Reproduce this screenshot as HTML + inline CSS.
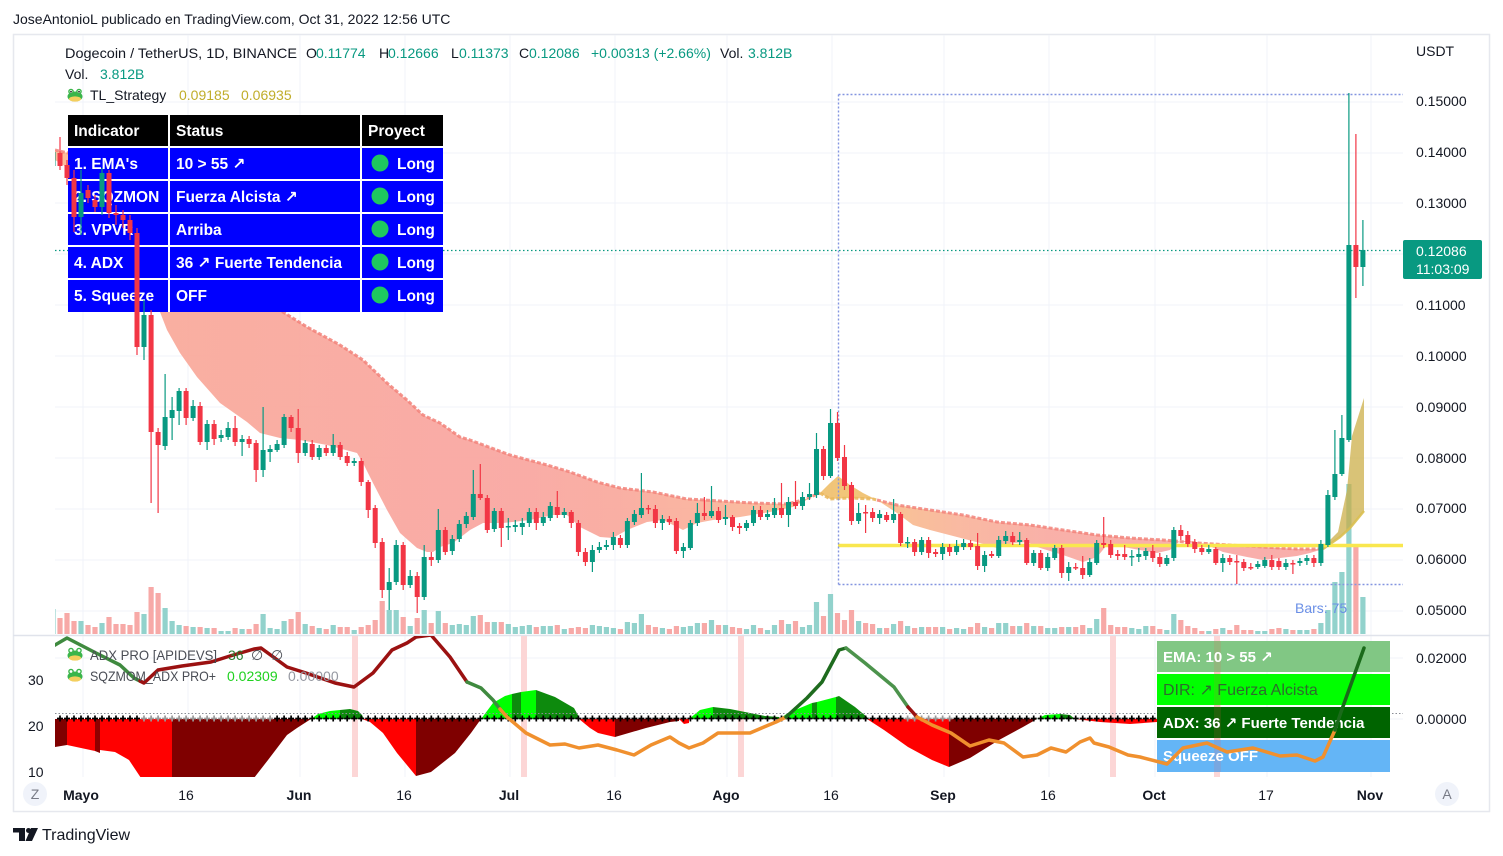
<!DOCTYPE html>
<html><head><meta charset="utf-8">
<style>
html,body{margin:0;padding:0;background:#fff;}
svg{display:block;font-family:"Liberation Sans","DejaVu Sans",sans-serif;}
</style></head>
<body>
<svg id="s" width="1503" height="856" viewBox="0 0 1503 856" xmlns="http://www.w3.org/2000/svg">
<defs>
<clipPath id="cm"><rect x="55" y="35" width="1348" height="599"/></clipPath>
<clipPath id="cl"><rect x="55" y="636" width="1348" height="141"/></clipPath>
<linearGradient id="gf" gradientUnits="userSpaceOnUse" x1="55" y1="0" x2="1403" y2="0">
<stop offset="0" stop-color="#fcb996"/>
<stop offset="0.078" stop-color="#f9ab9c"/>
<stop offset="0.33" stop-color="#f9a7a2"/>
<stop offset="0.419" stop-color="#f9ab9f"/>
<stop offset="0.523" stop-color="#fab89a"/>
<stop offset="0.567" stop-color="#f6c27c"/>
<stop offset="0.612" stop-color="#f8c08e"/>
<stop offset="0.671" stop-color="#f9b69d"/>
<stop offset="0.738" stop-color="#f9aca4"/>
<stop offset="1" stop-color="#f8a8a8"/>
</linearGradient>
</defs>
<rect width="1503" height="856" fill="#fff"/>
<text x="13" y="24" font-size="14" fill="#131722">JoseAntonioL publicado en TradingView.com, Oct 31, 2022 12:56 UTC</text>
<rect x="13.5" y="34.5" width="1476" height="777" fill="none" stroke="#e6e8ee" stroke-width="1.5"/>

<!-- grid -->
<g stroke="#f0f3fa" stroke-width="1">
<path d="M83,35V777 M188,35V777 M300,35V777 M405,35V777 M510,35V777 M615,35V777 M727,35V777 M832,35V777 M944,35V777 M1049,35V777 M1155,35V777 M1267,35V777 M1371,35V777"/>
<path d="M55,102H1403 M55,153H1403 M55,203H1403 M55,254H1403 M55,305H1403 M55,356H1403 M55,407H1403 M55,458H1403 M55,509H1403 M55,560H1403 M55,611H1403 M55,658H1403 M55,719H1403"/>
</g>
<line x1="13" y1="635.5" x2="1490" y2="635.5" stroke="#e0e3eb" stroke-width="1.5"/>

<g clip-path="url(#cm)">
<g id="vol"></g>
<!-- EMA ribbon -->
<polygon fill="url(#gf)" opacity="0.95" points="55,150 68,153 100,165 150,195 200,240 250,285 283,312 307,327 340,345 363,360 387,383 407,400 423,415 440,423 460,437 470,440 510,455 547,465 570,472 597,482 620,488 653,492 687,499 720,501 753,503 787,504 803,500 820,493 810,498 793,507 770,512 740,517 713,520 697,523 683,530 663,520 647,522 627,530 613,538 600,537 580,527 567,515 553,515 530,520 503,523 483,523 470,530 453,543 440,547 433,552 427,552 417,548 400,533 387,510 373,483 363,463 357,453 327,445 300,440 280,438 260,433 247,422 220,403 197,377 180,353 167,330 160,312 150,285 130,245 100,200 68,168 55,160"/>
<polygon fill="#efbf6a" opacity="0.9" points="820,493 830,483 838,476 850,485 863,493 877,500 873,499 850,498 830,499"/>
<polygon fill="url(#gf)" opacity="0.95" points="877,500 897,505 930,510 963,515 997,522 1030,525 1063,530 1097,535 1130,538 1163,540 1197,543 1230,545 1263,547 1297,549 1323,549 1310,553 1297,556 1280,558 1263,560 1247,557 1223,552 1207,545 1190,541 1180,541 1170,550 1157,553 1140,550 1123,547 1107,545 1097,557 1083,562 1063,555 1037,547 1027,542 1013,543 997,548 980,543 957,537 930,530 913,525 897,513"/>
<polygon fill="#cbac43" opacity="0.72" points="1323,549 1330,540 1338,532 1347,490 1352,436 1364,398 1364,511 1350,528 1340,537"/>
<polyline fill="none" stroke="#f2837a" stroke-width="3" stroke-dasharray="4 2" opacity="0.85" points="55,150 68,153 100,165 150,195 200,240 250,285 283,312 307,327 340,345 363,360 387,383 407,400 423,415 440,423 460,437 470,440 510,455 547,465 570,472 597,482 620,488 653,492 687,499 720,501 753,503 787,504 803,500 820,493"/>
<polyline fill="none" stroke="#e9b65a" stroke-width="3" stroke-dasharray="4 2" opacity="0.85" points="820,493 830,499 850,498 873,499 877,500"/>
<polyline fill="none" stroke="#f2837a" stroke-width="3" stroke-dasharray="4 2" opacity="0.85" points="877,500 897,505 930,510 963,515 997,522 1030,525 1063,530 1097,535 1130,538 1163,540 1197,543 1230,545 1263,547 1297,549 1323,549"/>
<polyline fill="none" stroke="#d9bf50" stroke-width="2.5" opacity="0.9" points="1323,549 1340,537 1350,528 1364,511"/>
<line x1="838" y1="545.5" x2="1403" y2="545.5" stroke="#f9e74e" stroke-width="3.5"/>
<path d="M838.5,94.5H1403 M838.5,94.5V584.5 M838.5,584.5H1403" fill="none" stroke="#8395e0" stroke-width="1.4" stroke-dasharray="2 2"/>
<line x1="55" y1="250.5" x2="1403" y2="250.5" stroke="#089981" stroke-width="1.3" stroke-dasharray="1.5 2.5"/>
<text x="1295" y="613" font-size="14" fill="#6a8fe6">Bars: 75</text>

<!-- table -->
<rect x="68" y="115" width="375" height="197" fill="#ffffff"/>
<rect x="68" y="115" width="100" height="31" fill="#000"/>
<rect x="170" y="115" width="190" height="31" fill="#000"/>
<rect x="362" y="115" width="81" height="31" fill="#000"/>
<g fill="#0000ff">
<rect x="68" y="148" width="100" height="31"/><rect x="170" y="148" width="190" height="31"/><rect x="362" y="148" width="81" height="31"/>
<rect x="68" y="181" width="100" height="31"/><rect x="170" y="181" width="190" height="31"/><rect x="362" y="181" width="81" height="31"/>
<rect x="68" y="214" width="100" height="31"/><rect x="170" y="214" width="190" height="31"/><rect x="362" y="214" width="81" height="31"/>
<rect x="68" y="247" width="100" height="31"/><rect x="170" y="247" width="190" height="31"/><rect x="362" y="247" width="81" height="31"/>
<rect x="68" y="280" width="100" height="32"/><rect x="170" y="280" width="190" height="32"/><rect x="362" y="280" width="81" height="32"/>
</g>
<g font-size="15.5" font-weight="bold" fill="#ffffff">
<text x="74" y="136">Indicator</text><text x="176" y="136">Status</text><text x="368" y="136">Proyect</text>
<text x="74" y="169">1. EMA's</text><text x="176" y="169">10 &gt; 55 ↗</text><text x="397" y="169">Long</text>
<text x="74" y="202">2. SQZMON</text><text x="176" y="202">Fuerza Alcista ↗</text><text x="397" y="202">Long</text>
<text x="74" y="235">3. VPVR</text><text x="176" y="235">Arriba</text><text x="397" y="235">Long</text>
<text x="74" y="268">4. ADX</text><text x="176" y="268">36 ↗ Fuerte Tendencia</text><text x="397" y="268">Long</text>
<text x="74" y="301">5. Squeeze</text><text x="176" y="301">OFF</text><text x="397" y="301">Long</text>
</g>
<g fill="#1ec85f">
<circle cx="380" cy="163" r="8.5"/><circle cx="380" cy="196" r="8.5"/><circle cx="380" cy="229" r="8.5"/><circle cx="380" cy="262" r="8.5"/><circle cx="380" cy="295" r="8.5"/>
</g>
<g id="candles"></g>
</g>

<!-- main legend -->
<g font-size="14">
<text x="65" y="58" fill="#131722" textLength="232" lengthAdjust="spacingAndGlyphs">Dogecoin / TetherUS, 1D, BINANCE</text>
<text y="58" fill="#131722"><tspan x="306">O</tspan><tspan x="379">H</tspan><tspan x="451">L</tspan><tspan x="519">C</tspan><tspan x="720">Vol.</tspan></text>
<text y="58" fill="#089981"><tspan x="316">0.11774</tspan><tspan x="388">0.12666</tspan><tspan x="459">0.11373</tspan><tspan x="529">0.12086</tspan><tspan x="591">+0.00313 (+2.66%)</tspan><tspan x="748">3.812B</tspan></text>
<text x="65" y="79" fill="#131722">Vol.</text><text x="100" y="79" fill="#089981">3.812B</text>
<text x="90" y="100" fill="#131722">TL_Strategy</text>
<text x="179" y="100" fill="#c0ad2a">0.09185</text><text x="241" y="100" fill="#c0ad2a">0.06935</text>
</g>
<g transform="translate(67,88)">
<ellipse cx="8" cy="8.5" rx="7.5" ry="5" fill="#3ab54a"/><ellipse cx="8" cy="11" rx="6" ry="2.6" fill="#f4cf5e"/>
<circle cx="4" cy="3.5" r="2.8" fill="#3ab54a"/><circle cx="12" cy="3.5" r="2.8" fill="#3ab54a"/>
<circle cx="4" cy="3.5" r="1.4" fill="#fff"/><circle cx="12" cy="3.5" r="1.4" fill="#fff"/>
<circle cx="4" cy="3.7" r="0.8" fill="#000"/><circle cx="12" cy="3.7" r="0.8" fill="#000"/>
</g>

<!-- right axis -->
<g font-size="14" fill="#131722">
<text x="1416" y="56">USDT</text>
<text x="1416" y="106">0.15000</text><text x="1416" y="157">0.14000</text><text x="1416" y="208">0.13000</text>
<text x="1416" y="310">0.11000</text><text x="1416" y="361">0.10000</text><text x="1416" y="412">0.09000</text>
<text x="1416" y="463">0.08000</text><text x="1416" y="513">0.07000</text><text x="1416" y="564">0.06000</text>
<text x="1416" y="615">0.05000</text>
<text x="1416" y="663">0.02000</text><text x="1416" y="724">0.00000</text>
<text x="28" y="685">30</text><text x="28" y="731">20</text><text x="28" y="777">10</text>
</g>
<rect x="1403" y="240" width="79" height="39" rx="2" fill="#089981"/>
<text x="1416" y="256" font-size="14" fill="#fff">0.12086</text>
<text x="1416" y="274" font-size="14" fill="#fff">11:03:09</text>

<!-- lower pane -->
<g clip-path="url(#cl)">
<g fill="#fcd6d6">
<rect x="352" y="636" width="6" height="141"/><rect x="521" y="636" width="6" height="141"/><rect x="738" y="636" width="6" height="141"/><rect x="1110" y="636" width="6" height="141"/><rect x="1214" y="636" width="6" height="141"/>
</g>
<!-- histogram -->
<polygon fill="#7f0000" points="55,719 67,719 67,745 55,747"/>
<polygon fill="#ff0000" points="67,719 95,719 95,751 67,745"/>
<polygon fill="#8f0000" points="95,719 100,719 100,753 95,751"/>
<polygon fill="#ff0000" points="100,719 172,719 172,778 141,778 129,760 115,752 100,750"/>
<polygon fill="#7f0000" points="172,719 311,719 297,728 287,735 268,760 254,778 172,778"/>
<polygon fill="#00ff00" points="311,719 318,714 330,711 340,710 340,719"/>
<polygon fill="#0d8a0d" points="340,710 350,709 358,711 362,715 364,719 340,719"/>
<polygon fill="#ff0000" points="362,719 416,719 416,776 397,753 383,733 370,722"/>
<polygon fill="#7f0000" points="416,719 481,719 471,733 455,753 431,772 416,776"/>
<polygon fill="#00ff00" points="481,719 493,703 505,696 512,694 512,719"/>
<polygon fill="#0d8a0d" points="512,694 521,692 521,719 512,719"/>
<polygon fill="#00ff00" points="521,692 536,690 536,719 521,719"/>
<polygon fill="#0d8a0d" points="536,690 555,697 574,708 579,717 579,719 536,719"/>
<polygon fill="#ff0000" points="579,719 615,719 615,737 598,733 590,728"/>
<polygon fill="#7f0000" points="615,719 679,719 679,721 670,722 646,728 615,737"/>
<polygon fill="#ff0000" points="679,719 689,719 689,723 684,724"/>
<polygon fill="#00ff00" points="689,719 700,710 713,707 713,719"/>
<polygon fill="#0d8a0d" points="713,707 730,709 750,713 765,716 779,717 779,719 713,719"/>
<polygon fill="#00ff00" points="779,719 788,713 800,708 812,703 812,719"/>
<polygon fill="#0d8a0d" points="812,703 817,702 817,719 812,719"/>
<polygon fill="#00ff00" points="817,702 836,697 836,719 817,719"/>
<polygon fill="#0d8a0d" points="836,697 839,696 855,707 867,717 867,719 836,719"/>
<polygon fill="#ff0000" points="867,719 949,719 949,767 932,760 908,747 884,730"/>
<polygon fill="#7f0000" points="949,719 1037,719 1023,727 999,740 970,758 949,767"/>
<polygon fill="#00ff00" points="1037,719 1045,715 1060,714 1060,719"/>
<polygon fill="#0d8a0d" points="1060,714 1070,715 1075,719 1060,719"/>
<polygon fill="#ff0000" points="1075,719 1157,719 1157,722 1130,724 1100,722"/>
<line x1="55" y1="713.5" x2="1403" y2="713.5" stroke="#8a8d96" stroke-width="1" stroke-dasharray="1.5 2"/>
<g id="cross"></g>
<!-- box -->
<rect x="1157" y="641" width="233" height="31" fill="#81c784"/>
<rect x="1157" y="674" width="233" height="31" fill="#00ff00"/>
<rect x="1157" y="707" width="233" height="31" fill="#006400"/>
<rect x="1157" y="740" width="233" height="32" fill="#64b5f6"/>
<rect x="1214" y="641" width="7" height="131" fill="#ff5050" opacity="0.13"/>
<text x="1163" y="662" font-size="15" font-weight="bold" fill="#fff">EMA: 10 &gt; 55 ↗</text>
<text x="1163" y="695" font-size="16" fill="#2e6b2e">DIR: ↗ Fuerza Alcista</text>
<text x="1163" y="728" font-size="15" font-weight="bold" fill="#fff">ADX: 36 ↗ Fuerte Tendencia</text>
<text x="1163" y="761" font-size="15" font-weight="bold" fill="#fff">Squeeze OFF</text>
<!-- ADX line -->
<g fill="none" stroke-width="3.5" stroke-linejoin="round" stroke-linecap="round">
<polyline stroke="#3f8a3f" points="50,648 55,645 67,638 96,653 120,665 134,678 140,681"/>
<polyline stroke="#9b1111" points="140,681 144,683 158,670 182,666 211,662 230,656 254,649 261,648 287,667 306,673 335,683 354,687 373,673 392,650 407,643 416,637 431,635 450,657 467,682"/>
<polyline stroke="#3f8a3f" points="467,682 481,688 493,700 500,709"/>
<polyline stroke="#f0902e" points="500,709 507,717 526,733 550,745 565,744 579,748 598,745 617,750 634,755 651,745 670,737 679,743 689,748 703,743 718,733 742,733 750,733 764,727 776,722 786,717"/>
<polyline stroke="#1e6b1e" points="786,717 807,698 822,682 839,650 846,648"/>
<polyline stroke="#4c934c" points="846,648 865,663 894,687 908,707"/>
<polyline stroke="#9b1111" points="908,707 917,717"/>
<polyline stroke="#f0902e" points="917,717 932,725 951,733 970,746 989,740 1004,743 1023,757 1037,755 1051,748 1066,752 1080,742 1090,738 1094,743 1109,747 1128,755 1140,757 1167,764 1183,748 1207,743 1227,752 1253,748 1280,756 1297,755 1315,761 1323,757 1335,730"/>
<polyline stroke="#1a6a1a" points="1335,730 1341,712 1364,648"/>
</g>
</g>
<g font-size="14">
<text x="90" y="660" fill="#4a4d55" textLength="127" lengthAdjust="spacingAndGlyphs">ADX PRO [APIDEVS]</text>
<text x="228" y="660" fill="#2e7d32">36</text><text x="251" y="660" fill="#4a4d55">∅</text><text x="271" y="660" fill="#4a4d55">∅</text>
<text x="90" y="681" fill="#4a4d55" textLength="126" lengthAdjust="spacingAndGlyphs">SQZMOM_ADX PRO+</text>
<text x="227" y="681" fill="#1fd11f">0.02309</text><text x="288" y="681" fill="#9598a1">0.00000</text>
</g>
<g transform="translate(67,647)">
<ellipse cx="8" cy="8.5" rx="7.5" ry="5" fill="#3ab54a"/><ellipse cx="8" cy="11" rx="6" ry="2.6" fill="#f4cf5e"/>
<circle cx="4" cy="3.5" r="2.8" fill="#3ab54a"/><circle cx="12" cy="3.5" r="2.8" fill="#3ab54a"/>
<circle cx="4" cy="3.5" r="1.4" fill="#fff"/><circle cx="12" cy="3.5" r="1.4" fill="#fff"/>
</g>
<g transform="translate(67,668)">
<ellipse cx="8" cy="8.5" rx="7.5" ry="5" fill="#3ab54a"/><ellipse cx="8" cy="11" rx="6" ry="2.6" fill="#f4cf5e"/>
<circle cx="4" cy="3.5" r="2.8" fill="#3ab54a"/><circle cx="12" cy="3.5" r="2.8" fill="#3ab54a"/>
<circle cx="4" cy="3.5" r="1.4" fill="#fff"/><circle cx="12" cy="3.5" r="1.4" fill="#fff"/>
</g>

<!-- time axis -->
<g font-size="14" fill="#131722" text-anchor="middle">
<text x="81" y="800" font-weight="bold">Mayo</text><text x="186" y="800">16</text>
<text x="299" y="800" font-weight="bold">Jun</text><text x="404" y="800">16</text>
<text x="509" y="800" font-weight="bold">Jul</text><text x="614" y="800">16</text>
<text x="726" y="800" font-weight="bold">Ago</text><text x="831" y="800">16</text>
<text x="943" y="800" font-weight="bold">Sep</text><text x="1048" y="800">16</text>
<text x="1154" y="800" font-weight="bold">Oct</text><text x="1266" y="800">17</text>
<text x="1370" y="800" font-weight="bold">Nov</text>
</g>
<circle cx="35" cy="794" r="12" fill="#f0f3fa"/>
<text x="35" y="799" font-size="14" fill="#787b86" text-anchor="middle">Z</text>
<circle cx="1447" cy="794" r="12" fill="#f0f3fa"/>
<text x="1447" y="799" font-size="14" fill="#787b86" text-anchor="middle">A</text>

<!-- footer -->
<g fill="#131722">
<rect x="13" y="828" width="12" height="4.5"/>
<rect x="19" y="828" width="6" height="13"/>
<circle cx="28.5" cy="830.5" r="2.5"/>
<polygon points="31,828 38,828 32,841 25.5,841"/>
</g>
<text x="42" y="840" font-size="16" fill="#131722">TradingView</text>
</svg>
<script>
(function(){
var C=[
[166,152,148,168],[153,166,137,170],[165,178,160,185],[178,217,170,232],[217,193,170,235],[190,198,185,203],[200,207,195,212],[207,173,168,215],[173,213,170,218],[213,215,205,225],
[215,220,210,228],[220,233,215,240],[233,347,228,355],[347,315,300,360],[315,432,310,503],[432,445,428,513],[446,417,374,450],[418,410,397,440],[411,391,388,425],[391,418,388,425],
[418,406,400,421],[406,442,402,445],[442,424,420,450],[424,439,420,445],[438,435,430,442],[437,428,422,440],[428,442,416,446],[442,439,435,456],[439,444,436,448],[443,470,440,482],
[470,450,407,477],[452,449,445,462],[450,444,440,452],[445,417,414,448],[417,428,415,432],[428,453,409,463],[453,443,440,456],[444,457,440,460],[457,448,445,460],[448,453,445,456],
[453,445,434,456],[445,457,442,460],[456,463,452,466],[463,461,458,466],[461,482,458,486],[482,510,480,518],[508,543,505,548],[542,590,538,598],[590,582,568,610],[582,545,540,585],
[545,585,542,590],[585,576,570,588],[576,597,572,613],[597,557,545,600],[557,560,552,566],[560,530,509,563],[530,552,527,555],[551,539,535,555],[539,524,520,542],[524,516,512,528],
[517,494,470,520],[494,498,464,500],[498,530,495,533],[529,511,508,532],[511,528,508,547],[527,526,518,540],[527,525,520,532],[527,523,518,535],[523,512,508,527],[512,523,508,530],
[523,517,512,526],[518,506,502,521],[507,515,491,518],[515,512,508,518],[512,523,510,528],[523,552,520,556],[552,562,548,566],[562,550,545,572],[550,547,542,553],[547,545,540,550],
[545,537,532,550],[538,545,535,548],[545,521,518,548],[522,514,510,525],[515,508,473,518],[508,509,505,514],[509,523,505,528],[523,519,515,530],[519,522,516,525],[521,551,518,554],
[551,547,543,558],[548,523,520,550],[523,513,503,526],[513,516,497,520],[516,511,486,518],[511,520,507,523],[519,517,505,525],[517,527,515,531],[526,528,523,534],[528,523,520,531],
[523,510,506,526],[510,517,506,520],[517,514,510,520],[515,508,498,518],[508,515,483,518],[515,502,497,527],[502,506,481,509],[506,497,492,510],[497,494,483,500],[495,449,433,498],
[449,476,446,480],[476,423,409,478],[423,458,412,461],[457,486,445,490],[485,521,482,525],[521,513,503,524],[512,513,505,533],[512,518,508,522],[518,514,510,524],[515,520,512,522],
[520,514,499,523],[514,543,512,546],[543,542,537,548],[542,552,539,556],[552,540,537,555],[540,553,537,558],[552,554,549,557],[554,547,543,560],[547,552,544,556],[552,546,540,555],
[547,543,539,550],[543,547,540,550],[546,566,533,570],[566,555,551,572],[554,556,551,558],[556,540,536,558],[541,536,531,544],[536,542,532,545],[542,540,532,545],[540,563,538,565],
[563,553,550,566],[553,568,550,570],[568,557,553,571],[558,548,545,560],[548,573,545,578],[573,567,562,581],[567,568,563,570],[568,575,556,579],[575,562,558,577],[563,543,540,565],
[543,545,517,548],[544,555,540,558],[554,556,550,560],[554,557,545,560],[557,556,550,566],[557,554,548,562],[556,551,548,560],[551,558,545,562],[557,564,553,567],[564,558,555,566],
[558,530,527,561],[530,536,525,540],[535,544,531,547],[542,549,539,553],[548,552,545,555],[552,549,545,554],[549,563,547,565],[563,558,554,572],[558,562,555,565],[561,562,555,584],
[562,568,559,571],[567,568,563,570],[567,564,561,569],[566,560,557,568],[560,567,555,570],[561,567,558,570],[567,563,559,570],[563,564,560,574],[563,561,558,566],[561,558,555,565],
[558,563,555,567],[563,544,540,566],[545,495,490,547],[497,474,430,500],[474,438,415,476],[440,245,93,442],[245,267,134,298],[267,250,220,286]
];
var V=[609,618,613,621,621,625,627,623,617,624,624,625,612,614,
587,593,608,621,625,626,627,627,628,628,
631,631,628,629,629,624,614,628,629,621,
619,612,624,626,628,629,625,627,627,630,
627,625,620,601,610,610,617,626,618,610,
623,611,623,625,624,625,616,615,622,622,
622,624,627,626,625,627,626,626,625,629,
628,627,628,625,626,627,628,629,622,623,
614,625,627,628,629,626,627,626,623,623,
620,625,625,627,628,629,625,628,630,625,
620,624,621,627,625,602,616,594,613,620,
610,621,623,624,628,628,624,621,626,628,
627,627,627,627,629,628,629,627,623,627,
628,623,623,626,626,623,626,626,628,628,
627,627,627,625,628,619,608,625,627,627,
628,629,626,626,629,630,614,620,626,628,
631,631,629,628,630,625,630,630,631,631,
629,628,629,630,630,630,629,623,610,582,
572,484,545,597];
function X(d){return 81+7.005*d;}
var cs="",vs="",xs="";
for(var i=0;i<C.length;i++){
 var d=i-4,x=X(d),r=C[i],o=r[0],c=r[1],h=r[2],l=r[3];
 var up=c<o,col=up?"#089981":"#f23645";
 cs+='<line x1="'+x.toFixed(1)+'" x2="'+x.toFixed(1)+'" y1="'+h+'" y2="'+l+'" stroke="'+col+'" stroke-width="1.2"/>';
 var t=Math.min(o,c),ht=Math.max(1.5,Math.abs(o-c));
 cs+='<rect x="'+(x-2.5).toFixed(1)+'" y="'+t+'" width="5" height="'+ht+'" fill="'+col+'"/>';
 var v=V[i]; if(v===undefined) v=628;
 vs+='<rect x="'+(x-2.6).toFixed(1)+'" y="'+v+'" width="5.2" height="'+(634-v)+'" fill="'+(up?'#92d2cc':'#f7a9a7')+'"/>';
 if(d>=-3){
  var g=(d>=9&&d<=27)||(d>=118&&d<=124);
  xs+='<path d="M'+(x-3).toFixed(1)+',718.5h6M'+x.toFixed(1)+',715.5v6" stroke="'+(g?'#9a9a9a':'#000')+'" stroke-width="1.7" fill="none"/>';
 }
}
document.getElementById('candles').innerHTML=cs;
document.getElementById('vol').innerHTML=vs;
document.getElementById('cross').innerHTML=xs;
})();
</script>
</body></html>
